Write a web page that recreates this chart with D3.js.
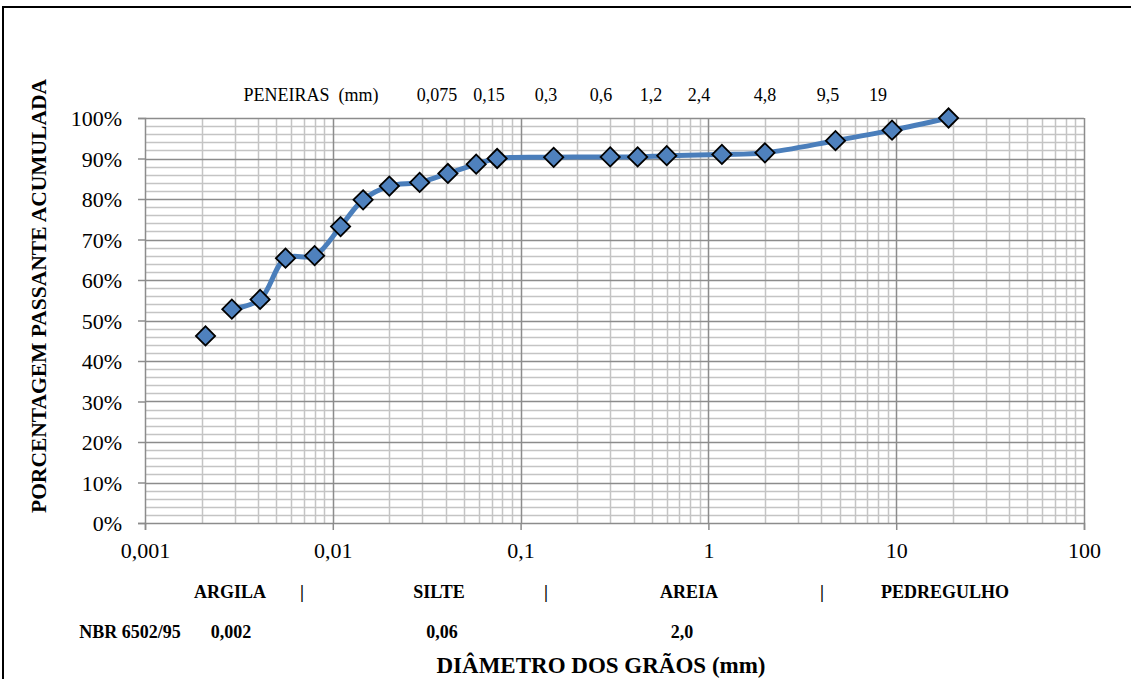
<!DOCTYPE html>
<html>
<head>
<meta charset="utf-8">
<script src="https://cdn.jsdelivr.net/npm/d3@7"></script>
<style>
  html, body { margin: 0; padding: 0; background: #fff; }
  svg text { font-family: "Liberation Serif", "Times New Roman", serif; fill: #000; }
</style>
</head>
<body>
<svg id="chart" width="1131" height="679"></svg>
<script>
// grain size (mm) and cumulative % passing
var diametros = [0.0021, 0.0029, 0.0041, 0.0056, 0.0080, 0.0110, 0.0145, 0.020, 0.029, 0.041, 0.058,
                 0.075, 0.15, 0.3, 0.42, 0.6, 1.18, 2.0, 4.75, 9.5, 19];
var passante = [46.2, 52.8, 55.2, 65.4, 66.0, 73.2, 79.8, 83.2, 84.1, 86.3, 88.6,
                90.0, 90.3, 90.4, 90.4, 90.7, 91.0, 91.4, 94.4, 97.0, 100];

var xTicks = [0.001, 0.01, 0.1, 1, 10, 100];
var xTickLabels = ["0,001", "0,01", "0,1", "1", "10", "100"];
var yTicks = [0, 10, 20, 30, 40, 50, 60, 70, 80, 90, 100];

var peneiras = ["PENEIRAS  (mm)", "0,075", "0,15", "0,3", "0,6", "1,2", "2,4", "4,8", "9,5", "19"];
var fracoes = ["ARGILA", "|", "SILTE", "|", "AREIA", "|", "PEDREGULHO"];
var limites = ["NBR 6502/95", "0,002", "0,06", "2,0"];

var svg = d3.select("#chart");

var pLeft = 145, pRight = 1084, pTop = 118, pBottom = 523;

var x = d3.scaleLog().domain([0.001, 100]).range([pLeft, pRight]);
var y = d3.scaleLinear().domain([0, 100]).range([pBottom, pTop]);

// outer frame (only left and top edges show)
svg.append("path")
    .attr("d", "M3,679V7H1131")
    .attr("fill", "none")
    .attr("stroke", "#000")
    .attr("stroke-width", 2);

// minor grid
var minorX = [];
for (var e = -3; e < 2; e++) {
    for (var k = 2; k < 10; k++) minorX.push(k * Math.pow(10, e));
}
var minorY = d3.range(0, 101, 2).filter(function(v) { return v % 10 != 0; });

var grid = svg.append("g");
grid.selectAll(".mx").data(minorX).enter().append("line")
    .attr("x1", function(d) { return Math.round(x(d)) + 0.5; })
    .attr("x2", function(d) { return Math.round(x(d)) + 0.5; })
    .attr("y1", pTop).attr("y2", pBottom)
    .attr("stroke", "#c4c4c4").attr("stroke-width", 1.5);
grid.selectAll(".my").data(minorY).enter().append("line")
    .attr("x1", pLeft).attr("x2", pRight)
    .attr("y1", function(d) { return Math.round(y(d)) + 0.5; })
    .attr("y2", function(d) { return Math.round(y(d)) + 0.5; })
    .attr("stroke", "#c4c4c4").attr("stroke-width", 1.5);

// major grid
grid.selectAll(".Mx").data(xTicks.slice(1)).enter().append("line")
    .attr("x1", function(d) { return Math.round(x(d)) + 0.5; })
    .attr("x2", function(d) { return Math.round(x(d)) + 0.5; })
    .attr("y1", pTop).attr("y2", pBottom)
    .attr("stroke", "#8c8c8c").attr("stroke-width", 1.5);
grid.selectAll(".My").data(yTicks.slice(1)).enter().append("line")
    .attr("x1", pLeft).attr("x2", pRight)
    .attr("y1", function(d) { return Math.round(y(d)) + 0.5; })
    .attr("y2", function(d) { return Math.round(y(d)) + 0.5; })
    .attr("stroke", "#8c8c8c").attr("stroke-width", 1.5);

// axes
var xAxis = d3.axisBottom(x).tickValues(xTicks)
    .tickFormat(function(d, i) { return xTickLabels[i]; })
    .tickSize(7).tickPadding(12);
var gx = svg.append("g").attr("transform", "translate(0," + pBottom + ")").call(xAxis);

var yAxis = d3.axisLeft(y).tickValues(yTicks)
    .tickFormat(function(d) { return d + "%"; })
    .tickSize(7).tickPadding(16);
var gy = svg.append("g").attr("transform", "translate(" + pLeft + ",0)").call(yAxis);

[gx, gy].forEach(function(g) {
    g.select(".domain").attr("stroke", "#8c8c8c").attr("stroke-width", 1.5);
    g.selectAll(".tick line").attr("stroke", "#8c8c8c").attr("stroke-width", 1.5);
    g.selectAll(".tick text").style("font-family", "Liberation Serif").style("font-size", "22px").attr("fill", "#000");
});
gy.selectAll(".tick text").attr("dy", "0.35em");
gx.selectAll(".tick text").attr("dy", "0.72em");

// curve
var pts = diametros.map(function(d, i) { return [d, passante[i]]; });
var line = d3.line()
    .x(function(d) { return x(d[0]); })
    .y(function(d) { return y(d[1]); })
    .curve(d3.curveCatmullRom.alpha(0.5));

svg.append("path")
    .datum(pts.slice(1))
    .attr("d", line)
    .attr("fill", "none")
    .attr("stroke", "#4a7ebb")
    .attr("stroke-width", 5)
    .attr("stroke-linejoin", "round");

svg.selectAll(".pt").data(pts).enter().append("path")
    .attr("d", d3.symbol(d3.symbolSquare, 185))
    .attr("transform", function(d) { return "translate(" + x(d[0]) + "," + y(d[1]) + ") rotate(45)"; })
    .attr("fill", "#4f81bd")
    .attr("stroke", "#000")
    .attr("stroke-width", 1.8);

// sieve labels along the top
var penX = [311, 437, 489, 546, 601, 651, 699, 765, 828, 878];
svg.selectAll(".pen").data(peneiras).enter().append("text")
    .attr("x", function(d, i) { return penX[i]; })
    .attr("y", 101)
    .attr("text-anchor", "middle")
    .style("font-size", "18px")
    .style("white-space", "pre")
    .text(function(d) { return d; });

// soil fractions
var fracX = [230, 302, 439, 546, 689, 822, 945];
svg.selectAll(".frac").data(fracoes).enter().append("text")
    .attr("x", function(d, i) { return fracX[i]; })
    .attr("y", 598)
    .attr("text-anchor", "middle")
    .style("font-size", "18px")
    .style("font-weight", "bold")
    .text(function(d) { return d; });

var limX = [130, 231, 442, 682];
svg.selectAll(".lim").data(limites).enter().append("text")
    .attr("x", function(d, i) { return limX[i]; })
    .attr("y", 638)
    .attr("text-anchor", "middle")
    .style("font-size", "18px")
    .style("font-weight", "bold")
    .text(function(d) { return d; });

// axis titles
svg.append("text")
    .attr("x", 601).attr("y", 673)
    .attr("text-anchor", "middle")
    .style("font-size", "23px")
    .style("font-weight", "bold")
    .text("DIÂMETRO DOS GRÃOS (mm)");

svg.append("text")
    .attr("transform", "translate(46,296) rotate(-90)")
    .attr("text-anchor", "middle")
    .style("font-size", "21.5px")
    .style("font-weight", "bold")
    .text("PORCENTAGEM PASSANTE ACUMULADA");
</script>
</body>
</html>
